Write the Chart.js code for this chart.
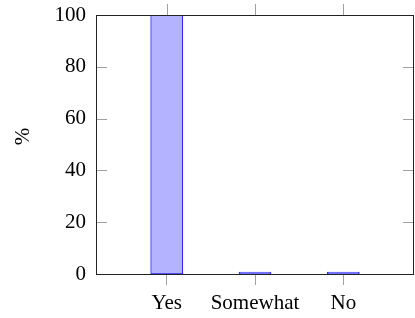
<!DOCTYPE html>
<html><head><meta charset="utf-8">
<script src="https://cdn.jsdelivr.net/npm/chart.js@4/dist/chart.umd.min.js"></script>
<style>html,body{margin:0;padding:0;background:#fff}#wrap{width:415px;height:318px}</style>
</head><body><div id="wrap"><canvas id="c" width="415" height="318"></canvas></div>
<script>
const categories = ['Yes', 'Somewhat', 'No'];
const values = [100, 0, 0];
const yTicks = [0, 20, 40, 60, 80, 100];
const yTitle = '%';

const FONT = {family: '"Liberation Serif", serif', size: 21};

const framePlugin = {
  id: 'frame',
  afterDatasetsDraw(chart) {
    const {ctx, chartArea: a, scales} = chart;
    ctx.save();
    ctx.strokeStyle = '#a0a0a0';
    ctx.lineWidth = 1;
    ctx.beginPath();
    yTicks.forEach(v => {
      const y = Math.round(scales.y.getPixelForValue(v)) + 0.5;
      ctx.moveTo(a.left, y); ctx.lineTo(a.left + 11, y);
      ctx.moveTo(a.right, y); ctx.lineTo(a.right - 11, y);
    });
    categories.forEach((c, i) => {
      const x = Math.round(scales.x.getPixelForValue(i)) + 0.5;
      ctx.moveTo(x, a.top); ctx.lineTo(x, a.top - 11);
    });
    ctx.stroke();
    ctx.strokeStyle = '#222';
    ctx.lineWidth = 1;
    ctx.strokeRect(Math.round(a.left) + 0.5, Math.round(a.top) + 0.5,
      Math.round(a.right - a.left) - 1, Math.round(a.bottom - a.top));
    ctx.restore();
  }
};

new Chart(document.getElementById('c'), {
  type: 'bar',
  data: {
    datasets: [{
      data: values.map((v, i) => ({x: i, y: v})),
      backgroundColor: 'rgb(179,179,255)',
      borderColor: 'rgb(40,40,255)',
      borderWidth: 1,
      borderSkipped: false,
      barThickness: 32,
      minBarLength: 2
    }]
  },
  options: {
    responsive: false,
    animation: false,
    devicePixelRatio: 1,
    layout: {padding: {top: 15, right: 1, left: 0, bottom: 0}},
    plugins: {legend: {display: false}, tooltip: {enabled: false}},
    scales: {
      x: {
        type: 'linear',
        offset: false,
        min: -0.8, max: 2.8,
        afterBuildTicks: s => { s.ticks = categories.map((c, i) => ({value: i})); },
        afterFit: s => { s.height = 44; s.paddingLeft = 0; s.paddingRight = 0; },
        ticks: {
          callback: v => categories[v],
          font: FONT, color: '#000', padding: 6, maxRotation: 0, autoSkip: false
        },
        grid: {offset: false, drawOnChartArea: false, drawTicks: true, tickLength: 11, color: '#a0a0a0'},
        border: {display: false}
      },
      y: {
        min: 0, max: 100,
        afterBuildTicks: s => { s.ticks = yTicks.map(v => ({value: v})); },
        afterFit: s => { s.width = 96; s.paddingTop = 0; s.paddingBottom = 0; },
        ticks: {font: FONT, color: '#000', padding: 10},
        grid: {display: false, drawTicks: false},
        border: {display: false},
        title: {display: true, text: '   ' + yTitle, font: FONT, color: '#000', padding: {top: 11, bottom: 0}}
      }
    }
  },
  plugins: [framePlugin]
});
</script></body></html>
